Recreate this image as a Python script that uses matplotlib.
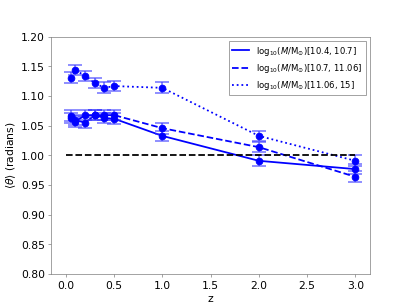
import matplotlib
matplotlib.use("Agg")
import matplotlib.pyplot as plt

z = [0.05, 0.1, 0.2, 0.3, 0.4, 0.5, 1.0, 2.0, 3.0]
theta_low = [1.067, 1.060, 1.055, 1.068, 1.063, 1.062, 1.033, 0.991, 0.977]
theta_mid = [1.063, 1.057, 1.068, 1.068, 1.068, 1.068, 1.046, 1.014, 0.964]
theta_high = [1.131, 1.144, 1.134, 1.122, 1.114, 1.117, 1.114, 1.033, 0.991]
err = [0.009, 0.009, 0.009, 0.009, 0.009, 0.009, 0.009, 0.009, 0.009]
labels = [r"log$_{10}$($M$/M$_{\odot}$)[10.4, 10.7]",
          r"log$_{10}$($M$/M$_{\odot}$)[10.7, 11.06]",
          r"log$_{10}$($M$/M$_{\odot}$)[11.06, 15]"]
styles = ["-", "--", ":"]

fig, ax = plt.subplots(figsize=(6.4, 4.8), dpi=64.2)
for vals, lab, ls in zip([theta_low, theta_mid, theta_high], labels, styles):
    ax.plot(z, vals, color="blue", linestyle=ls, lw=2, label=lab)
    ax.errorbar(z, vals, yerr=err, fmt="o", color="blue", ms=7.5,
                ecolor=(0.2, 0.2, 1.0, 0.6), elinewidth=2, capsize=8, capthick=2)
ax.plot([0, 3], [1, 1], color="black", linestyle="--", lw=2)

ax.set_ylim(0.8, 1.2)
ax.set_xticks([0.0, 0.5, 1.0, 1.5, 2.0, 2.5, 3.0])
ax.set_yticks([0.80, 0.85, 0.90, 0.95, 1.00, 1.05, 1.10, 1.15, 1.20])
ax.tick_params(labelsize=12, color="gray")
ax.set_xlabel("z", fontsize=12)
ax.set_ylabel(r"$\langle\theta\rangle$ (radians)", fontsize=12)
for s in ax.spines.values():
    s.set_color("gray")
leg = ax.legend(loc="upper right", fontsize=9.5, fancybox=False, edgecolor="gray")
fig.savefig("out.png", dpi=64.2)
